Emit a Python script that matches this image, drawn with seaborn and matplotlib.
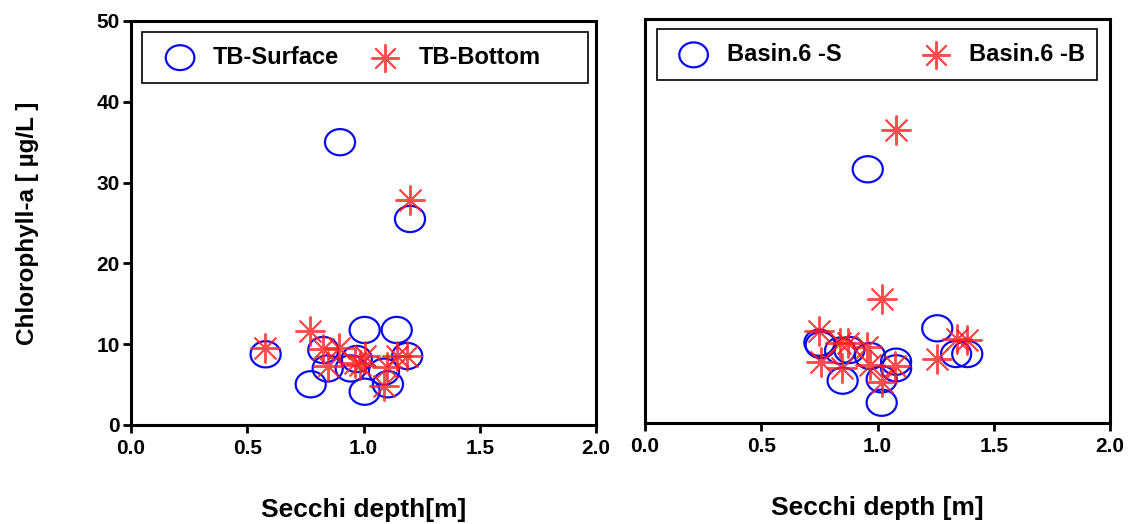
import numpy as np
import pandas as pd
import matplotlib
matplotlib.use("Agg")
import matplotlib.pyplot as plt
from matplotlib.path import Path
from matplotlib.patches import Rectangle
import seaborn as sns

# ---- data ----
tb_surface_x = [0.579, 0.827, 0.846, 0.773, 1.005, 1.143, 0.971, 0.945, 1.005, 1.088, 1.105, 1.188, 0.899, 1.200]
tb_surface_y = [8.75, 9.28, 7.0, 5.04, 11.76, 11.76, 8.17, 7.0, 4.12, 6.6, 5.04, 8.54, 35.0, 25.5]
tb_bottom_x = [0.576, 0.770, 0.827, 0.896, 0.846, 0.963, 1.006, 0.985, 1.100, 1.088, 1.143, 1.186, 1.200]
tb_bottom_y = [9.49, 11.63, 9.4, 9.57, 7.3, 7.63, 8.54, 7.4, 7.14, 4.83, 8.54, 8.54, 27.8]

b6_surface_x = [0.750, 0.756, 0.839, 0.879, 0.968, 1.080, 1.080, 1.018, 1.018, 0.850, 1.257, 1.338, 1.386, 0.958]
b6_surface_y = [9.94, 9.65, 8.95, 9.03, 8.29, 7.59, 6.77, 5.4, 2.51, 5.24, 11.72, 8.54, 8.54, 31.4]
b6_bottom_x = [0.750, 0.756, 0.839, 0.874, 0.846, 0.956, 0.968, 1.018, 1.075, 1.255, 1.341, 1.384, 1.080, 1.018]
b6_bottom_y = [11.42, 7.59, 9.86, 9.94, 6.77, 9.44, 7.18, 5.11, 7.05, 7.88, 10.36, 10.27, 36.3, 15.4]

labels_left = ["TB-Surface", "TB-Bottom"]
labels_right = ["Basin.6 -S", "Basin.6 -B"]
x_ticks = [0.0, 0.5, 1.0, 1.5, 2.0]
y_ticks = [0, 10, 20, 30, 40, 50]

sns.set_theme(style="white")
plt.rcParams['font.family'] = ['Liberation Sans', 'DejaVu Sans']
plt.rcParams['font.weight'] = 'bold'
for k in ('text.color', 'axes.labelcolor', 'xtick.color', 'ytick.color'):
    plt.rcParams[k] = 'black'

# slightly wide ellipse marker
t = np.linspace(0, 2 * np.pi, 73)
ellipse = Path(np.column_stack([np.cos(t), 0.87 * np.sin(t)]), closed=True)
star = (8, 2, 0)

fig = plt.figure(figsize=(11.36, 5.24), dpi=100)
axL = fig.add_axes([131/1136, 1-425/524, 465/1136, 404/524])
axR = fig.add_axes([645/1136, 1-423/524, 465/1136, 404/524])

def draw(ax, sx, sy, bx, by, labs):
    dfs = pd.DataFrame({"x": sx, "y": sy})
    dfb = pd.DataFrame({"x": bx, "y": by})
    sns.scatterplot(data=dfs, x="x", y="y", ax=ax, marker=ellipse, s=470,
                    facecolors="none", edgecolor="#0a0aee", linewidth=1.6,
                    label=labs[0], zorder=3)
    sns.scatterplot(data=dfb, x="x", y="y", ax=ax, marker=star, s=430,
                    color="#ff2020", linewidth=1.4, alpha=0.8,
                    label=labs[1], zorder=4)
    ax.set_xlim(0, 2)
    ax.set_ylim(0, 50)
    ax.set_xticks(x_ticks)
    ax.set_xticklabels([f"{v:.1f}" for v in x_ticks], fontsize=15, fontweight='bold',
                       color='black')
    for sp in ax.spines.values():
        sp.set_visible(True)
        sp.set_linewidth(2.2)
        sp.set_color("black")
    ax.tick_params(axis='x', direction='out', length=6, width=2, bottom=True, pad=4,
                   color='black')

draw(axL, tb_surface_x, tb_surface_y, tb_bottom_x, tb_bottom_y, labels_left)
draw(axR, b6_surface_x, b6_surface_y, b6_bottom_x, b6_bottom_y, labels_right)

axL.set_yticks(y_ticks)
axL.set_yticklabels([str(v) for v in y_ticks], fontsize=15, fontweight='bold', color='black')
axL.tick_params(axis='y', direction='out', length=6, width=2, left=True, pad=2, color='black')
axR.set_yticks([])

axL.set_ylabel("Chlorophyll-a [ µg/L ]", fontsize=17.5, fontweight='bold', color='black')
axL.yaxis.set_label_coords(-0.198, 0.5)
axL.set_xlabel("Secchi depth[m]", fontsize=19, fontweight='bold', color='black')
axL.xaxis.set_label_coords(0.5, -0.18)
axR.set_ylabel("")
axR.set_xlabel("Secchi depth [m]", fontsize=19, fontweight='bold', color='black')
axR.xaxis.set_label_coords(0.5, -0.18)

# legends: content placed precisely, frame drawn as a rectangle
specs = (
    (axL, (0.070, 0.910), 1.25, (0.0237, 0.8465, 0.959, 0.126)),
    (axR, (0.069, 0.912), 3.3, (0.0258, 0.849, 0.946, 0.126)),
)
for ax, anchor, colsp, box in specs:
    leg = ax.legend(loc="center left", bbox_to_anchor=anchor, ncol=2, frameon=False,
                    prop={'size': 17, 'weight': 'bold'}, handlelength=1.4,
                    handletextpad=0.7, columnspacing=colsp, borderpad=0,
                    borderaxespad=0, markerscale=0.95)
    for txt in leg.get_texts():
        txt.set_color('black')
    ax.add_patch(Rectangle((box[0], box[1]), box[2], box[3], transform=ax.transAxes,
                           fill=False, edgecolor="black", linewidth=1.2, zorder=5,
                           clip_on=False))

fig.savefig("out.png", dpi=100, facecolor="white")
